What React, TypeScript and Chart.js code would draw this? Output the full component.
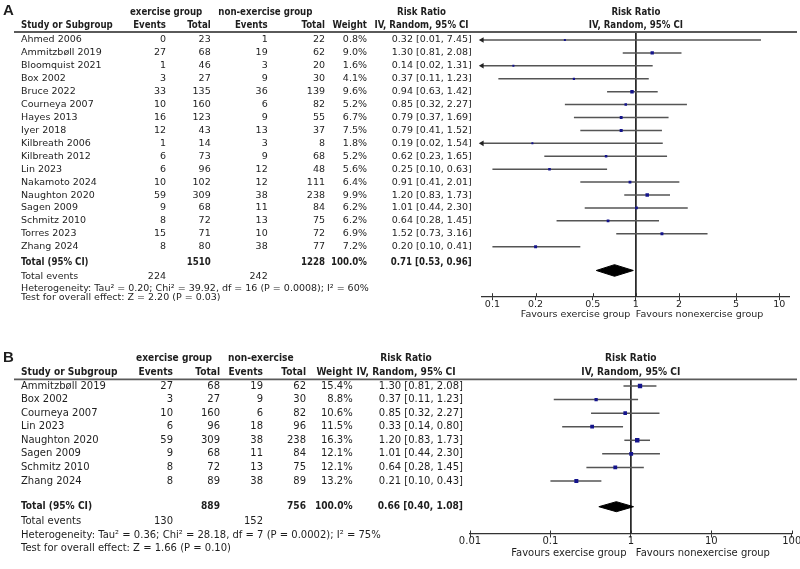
import React, { useEffect, useRef } from 'react';
import { Chart, registerables } from 'chart.js';

Chart.register(...registerables);

// ---------- Panel A: all seventeen trials ----------
const studiesA = [
  'Ahmed 2006', 'Ammitzbøll 2019', 'Bloomquist 2021', 'Box 2002', 'Bruce 2022',
  'Courneya 2007', 'Hayes 2013', 'Iyer 2018', 'Kilbreath 2006', 'Kilbreath 2012',
  'Lin 2023', 'Nakamoto 2024', 'Naughton 2020', 'Sagen 2009', 'Schmitz 2010',
  'Torres 2023', 'Zhang 2024',
];
const exEventsA = [0, 27, 1, 3, 33, 10, 16, 12, 1, 6, 6, 10, 59, 9, 8, 15, 8];
const exTotalA = [23, 68, 46, 27, 135, 160, 123, 43, 14, 73, 96, 102, 309, 68, 72, 71, 80];
const ctEventsA = [1, 19, 3, 9, 36, 6, 9, 13, 3, 9, 12, 12, 38, 11, 13, 10, 38];
const ctTotalA = [22, 62, 20, 30, 139, 82, 55, 37, 8, 68, 48, 111, 238, 84, 75, 72, 77];
const weightA = [0.8, 9.0, 1.6, 4.1, 9.6, 5.2, 6.7, 7.5, 1.8, 5.2, 5.6, 6.4, 9.9, 6.2, 6.2, 6.9, 7.2];
const rrA = [0.32, 1.30, 0.14, 0.37, 0.94, 0.85, 0.79, 0.79, 0.19, 0.62, 0.25, 0.91, 1.20, 1.01, 0.64, 1.52, 0.20];
const loA = [0.01, 0.81, 0.02, 0.11, 0.63, 0.32, 0.37, 0.41, 0.02, 0.23, 0.10, 0.41, 0.83, 0.44, 0.28, 0.73, 0.10];
const hiA = [7.45, 2.08, 1.31, 1.23, 1.42, 2.27, 1.69, 1.52, 1.54, 1.65, 0.63, 2.01, 1.73, 2.30, 1.45, 3.16, 0.41];
const pooledA = [0.71, 0.53, 0.96];
const hetA = 'Heterogeneity: Tau² = 0.20; Chi² = 39.92, df = 16 (P = 0.0008); I² = 60%';
const effectA = 'Test for overall effect: Z = 2.20 (P = 0.03)';
const ticksA = [0.1, 0.2, 0.5, 1, 2, 5, 10];
const rangeA = [0.0846, 11.74];

// ---------- Panel B: subset of eight trials ----------
const studiesB = [
  'Ammitzbøll 2019', 'Box 2002', 'Courneya 2007', 'Lin 2023',
  'Naughton 2020', 'Sagen 2009', 'Schmitz 2010', 'Zhang 2024',
];
const exEventsB = [27, 3, 10, 6, 59, 9, 8, 8];
const exTotalB = [68, 27, 160, 96, 309, 68, 72, 89];
const ctEventsB = [19, 9, 6, 18, 38, 11, 13, 38];
const ctTotalB = [62, 30, 82, 96, 238, 84, 75, 89];
const weightB = [15.4, 8.8, 10.6, 11.5, 16.3, 12.1, 12.1, 13.2];
const rrB = [1.30, 0.37, 0.85, 0.33, 1.20, 1.01, 0.64, 0.21];
const loB = [0.81, 0.11, 0.32, 0.14, 0.83, 0.44, 0.28, 0.10];
const hiB = [2.08, 1.23, 2.27, 0.80, 1.73, 2.30, 1.45, 0.43];
const pooledB = [0.66, 0.40, 1.08];
const hetB = 'Heterogeneity: Tau² = 0.36; Chi² = 28.18, df = 7 (P = 0.0002); I² = 75%';
const effectB = 'Test for overall effect: Z = 1.66 (P = 0.10)';
const ticksB = [0.01, 0.1, 1, 10, 100];
const rangeB = [0.01, 100];

// pooled weight is reported as a whole, not as the sum of the rounded study weights
const TOTAL_WEIGHT = 100.0;

interface Layout {
  top: number; height: number;
  padLeft: number; padRight: number; padTop: number; axisHeight: number;
  yMin: number; yMax: number;
  totalRow: number; diamondRow: number; eventsRow: number; hetRow: number; effectRow: number;
  diamondHalf: number;
  fontSize: number; boldSize: number;
  letterY: number; headY1: number; headY2: number;
  col: { name: number; exEv: number; exTot: number; ctEv: number; ctTot: number; weight: number; rr: number; exHead: number; ctHead: number; rrHead: number };
  tickPad: number; favY: number; favLeftGap: number; favRightGap: number;
}

interface PanelSpec {
  letter: string; ctHeader: string;
  studies: string[]; exEvents: number[]; exTotal: number[]; ctEvents: number[]; ctTotal: number[];
  weight: number[]; rr: number[]; lo: number[]; hi: number[];
  pooled: number[]; het: string; effect: string; ticks: number[]; range: number[];
  layout: Layout;
}

const panelA: PanelSpec = {
  letter: 'A', ctHeader: 'non-exercise group',
  studies: studiesA, exEvents: exEventsA, exTotal: exTotalA, ctEvents: ctEventsA, ctTotal: ctTotalA,
  weight: weightA, rr: rrA, lo: loA, hi: hiA, pooled: pooledA, het: hetA, effect: effectA,
  ticks: ticksA, range: rangeA,
  layout: {
    top: 0, height: 327,
    padLeft: 482, padRight: 10.7, padTop: 32, axisHeight: 30.3,
    yMin: -0.62, yMax: 19.87,
    totalRow: 17.2, diamondRow: 17.84, eventsRow: 18.32, hetRow: 19.2, effectRow: 19.97,
    diamondHalf: 0.45,
    fontSize: 9.5, boldSize: 9.6,
    letterY: 11.3, headY1: 12, headY2: 25,
    col: { name: 21, exEv: 166, exTot: 210.7, ctEv: 267.7, ctTot: 325, weight: 367, rr: 471.7, exHead: 130, ctHead: 218.3, rrHead: 421.5 },
    tickPad: -1, favY: 315, favLeftGap: 5.5, favRightGap: 0,
  },
};

const panelB: PanelSpec = {
  letter: 'B', ctHeader: 'non-exercise',
  studies: studiesB, exEvents: exEventsB, exTotal: exTotalB, ctEvents: ctEventsB, ctTotal: ctTotalB,
  weight: weightB, rr: rrB, lo: loB, hi: hiB, pooled: pooledB, het: hetB, effect: effectB,
  ticks: ticksB, range: rangeB,
  layout: {
    top: 327, height: 242,
    padLeft: 470, padRight: 8.3, padTop: 52.3, axisHeight: 35,
    yMin: -0.494, yMax: 10.906,
    totalRow: 8.894, diamondRow: 8.894, eventsRow: 9.95, hetRow: 10.98, effectRow: 11.96,
    diamondHalf: 0.37,
    fontSize: 10, boldSize: 10.1,
    letterY: 31.3, headY1: 31.3, headY2: 45.3,
    col: { name: 21, exEv: 173, exTot: 220, ctEv: 263, ctTot: 306, weight: 352.7, rr: 463, exHead: 136, ctHead: 228, rrHead: 406 },
    tickPad: -2.5, favY: 226.3, favLeftGap: 4.3, favRightGap: 5,
  },
};

const TEXT = '#1e1e1e';
const CI_LINE = '#555555';
const MARKER = '#14148c';
const REGULAR = '"DejaVu Sans", Verdana, sans-serif';
const BOLD = '"DejaVu Sans Condensed", "DejaVu Sans", Verdana, sans-serif';

const sum = (a: number[]) => a.reduce((s, v) => s + v, 0);
const fmtCI = (e: number, l: number, h: number) => `${e.toFixed(2)} [${l.toFixed(2)}, ${h.toFixed(2)}]`;

// Draws the study table, headers, summary lines and axis captions around the plot.
function makeTablePlugin(p: PanelSpec) {
  return {
    id: 'forestTable' + p.letter,
    afterDraw(chart: any) {
      const ctx: CanvasRenderingContext2D = chart.ctx;
      const xs = chart.scales.x;
      const ys = chart.scales.y;
      const L = p.layout;
      const C = L.col;
      const area = chart.chartArea;
      const reg = `${L.fontSize}px ${REGULAR}`;
      const bold = `bold ${L.boldSize}px ${BOLD}`;
      const x1 = xs.getPixelForValue(1);
      const rowY = (r: number) => ys.getPixelForValue(r);
      const text = (s: string, x: number, y: number, font: string, align: CanvasTextAlign = 'left') => {
        ctx.font = font;
        ctx.textAlign = align;
        ctx.fillText(s, x, y);
      };

      ctx.save();
      ctx.fillStyle = TEXT;
      ctx.textBaseline = 'middle';

      // panel letter
      text(p.letter, 3, L.letterY, 'bold 15px "Liberation Sans", Arial, sans-serif');

      // column headers
      text('exercise group', C.exHead, L.headY1, bold);
      text(p.ctHeader, C.ctHead, L.headY1, bold);
      text('Risk Ratio', C.rrHead, L.headY1, bold, 'center');
      text('Risk Ratio', x1, L.headY1, bold, 'center');
      text('Study or Subgroup', C.name, L.headY2, bold);
      text('Events', C.exEv, L.headY2, bold, 'right');
      text('Total', C.exTot, L.headY2, bold, 'right');
      text('Events', C.ctEv, L.headY2, bold, 'right');
      text('Total', C.ctTot, L.headY2, bold, 'right');
      text('Weight', C.weight, L.headY2, bold, 'right');
      text('IV, Random, 95% CI', C.rrHead, L.headY2, bold, 'center');
      text('IV, Random, 95% CI', x1, L.headY2, bold, 'center');

      // header rule
      ctx.strokeStyle = '#5a5a5a';
      ctx.lineWidth = 1.8;
      ctx.beginPath();
      ctx.moveTo(14, area.top);
      ctx.lineTo(797, area.top);
      ctx.stroke();

      // study rows
      p.studies.forEach((name, i) => {
        const y = rowY(i);
        text(name, C.name, y, reg);
        text(String(p.exEvents[i]), C.exEv, y, reg, 'right');
        text(String(p.exTotal[i]), C.exTot, y, reg, 'right');
        text(String(p.ctEvents[i]), C.ctEv, y, reg, 'right');
        text(String(p.ctTotal[i]), C.ctTot, y, reg, 'right');
        text(p.weight[i].toFixed(1) + '%', C.weight, y, reg, 'right');
        text(fmtCI(p.rr[i], p.lo[i], p.hi[i]), C.rr, y, reg, 'right');
      });

      // pooled row
      const ty = rowY(L.totalRow);
      text('Total (95% CI)', C.name, ty, bold);
      text(String(sum(p.exTotal)), C.exTot, ty, bold, 'right');
      text(String(sum(p.ctTotal)), C.ctTot, ty, bold, 'right');
      text(TOTAL_WEIGHT.toFixed(1) + '%', C.weight, ty, bold, 'right');
      text(fmtCI(p.pooled[0], p.pooled[1], p.pooled[2]), C.rr, ty, bold, 'right');

      const ey = rowY(L.eventsRow);
      text('Total events', C.name, ey, reg);
      text(String(sum(p.exEvents)), C.exEv, ey, reg, 'right');
      text(String(sum(p.ctEvents)), C.ctEv, ey, reg, 'right');
      text(p.het, C.name, rowY(L.hetRow), reg);
      text(p.effect, C.name, rowY(L.effectRow), reg);

      // upper halves of the axis tick marks
      ctx.strokeStyle = '#333';
      ctx.lineWidth = 1;
      xs.ticks.forEach((t: any) => {
        const px = Math.round(xs.getPixelForValue(t.value)) + 0.5;
        ctx.beginPath();
        ctx.moveTo(px, area.bottom - 3.5);
        ctx.lineTo(px, area.bottom);
        ctx.stroke();
      });

      // direction captions
      text('Favours exercise group', x1 - L.favLeftGap, L.favY, reg, 'right');
      text('Favours nonexercise group', x1 + L.favRightGap, L.favY, reg, 'left');

      ctx.restore();
    },
  };
}

function buildConfig(p: PanelSpec): any {
  const L = p.layout;
  const [xmin, xmax] = p.range;

  const ciSets = p.studies.map((_, i) => {
    const clipL = p.lo[i] < xmin;
    const clipR = p.hi[i] > xmax;
    return {
      type: 'line',
      data: [
        { x: Math.max(p.lo[i], xmin), y: i },
        { x: Math.min(p.hi[i], xmax), y: i },
      ],
      borderColor: CI_LINE,
      borderWidth: 1.5,
      pointRadius: [clipL ? 3.2 : 0, clipR ? 3.2 : 0],
      pointStyle: 'triangle',
      pointRotation: [270, 90],
      pointBackgroundColor: '#222',
      pointBorderColor: '#222',
      pointBorderWidth: 0,
      clip: false,
      order: 2,
    };
  });

  const estimates = {
    type: 'scatter',
    data: p.rr.map((v, i) => ({ x: v, y: i })),
    pointStyle: 'rect',
    pointRadius: p.weight.map((w) => Math.max(2, 1.1 * Math.sqrt(w)) / Math.SQRT2),
    pointBackgroundColor: MARKER,
    pointBorderWidth: 0,
    showLine: false,
    order: 0,
  };

  const [est, lo, hi] = p.pooled;
  const d = L.diamondRow;
  const h = L.diamondHalf;
  const diamond = {
    type: 'line',
    data: [
      { x: lo, y: d }, { x: est, y: d - h }, { x: hi, y: d }, { x: est, y: d + h }, { x: lo, y: d },
    ],
    borderColor: '#000',
    backgroundColor: '#000',
    borderWidth: 1,
    fill: 'shape',
    tension: 0,
    pointRadius: 0,
    order: 1,
  };

  const noEffect = {
    type: 'line',
    data: [{ x: 1, y: L.yMin }, { x: 1, y: L.yMax }],
    borderColor: '#222',
    borderWidth: 1,
    pointRadius: 0,
    order: 3,
  };

  return {
    type: 'line',
    data: { datasets: [estimates, diamond, ...ciSets, noEffect] },
    options: {
      responsive: false,
      animation: false,
      events: [],
      layout: { padding: { left: L.padLeft, right: L.padRight, top: L.padTop, bottom: 0 } },
      plugins: { legend: { display: false }, tooltip: { enabled: false }, title: { display: false } },
      scales: {
        x: {
          type: 'logarithmic',
          position: 'bottom',
          min: xmin,
          max: xmax,
          afterBuildTicks: (s: any) => { s.ticks = p.ticks.map((v) => ({ value: v })); },
          afterFit: (s: any) => { s.height = L.axisHeight; },
          ticks: {
            autoSkip: false,
            maxRotation: 0,
            padding: L.tickPad,
            color: TEXT,
            font: { family: REGULAR, size: L.fontSize },
            callback: (v: number) => String(v),
          },
          grid: { display: true, drawOnChartArea: false, drawTicks: true, tickLength: 3.5, color: '#333', lineWidth: 1 },
          border: { display: true, color: '#333', width: 1.2 },
        },
        y: { type: 'linear', display: false, reverse: true, min: L.yMin, max: L.yMax },
      },
    },
    plugins: [makeTablePlugin(p)],
  };
}

function ForestPanel({ spec }: { spec: PanelSpec }) {
  const ref = useRef<HTMLCanvasElement>(null);
  useEffect(() => {
    if (!ref.current) return;
    const chart = new Chart(ref.current, buildConfig(spec));
    return () => chart.destroy();
  }, [spec]);
  return (
    <canvas
      ref={ref}
      width={800}
      height={spec.layout.height}
      style={{ position: 'absolute', left: 0, top: spec.layout.top, width: 800, height: spec.layout.height, display: 'block' }}
    />
  );
}

export default function App() {
  return (
    <div style={{ position: 'absolute', left: 0, top: 0, width: 800, height: 569, background: '#fff', overflow: 'hidden' }}>
      <ForestPanel spec={panelA} />
      <ForestPanel spec={panelB} />
    </div>
  );
}
